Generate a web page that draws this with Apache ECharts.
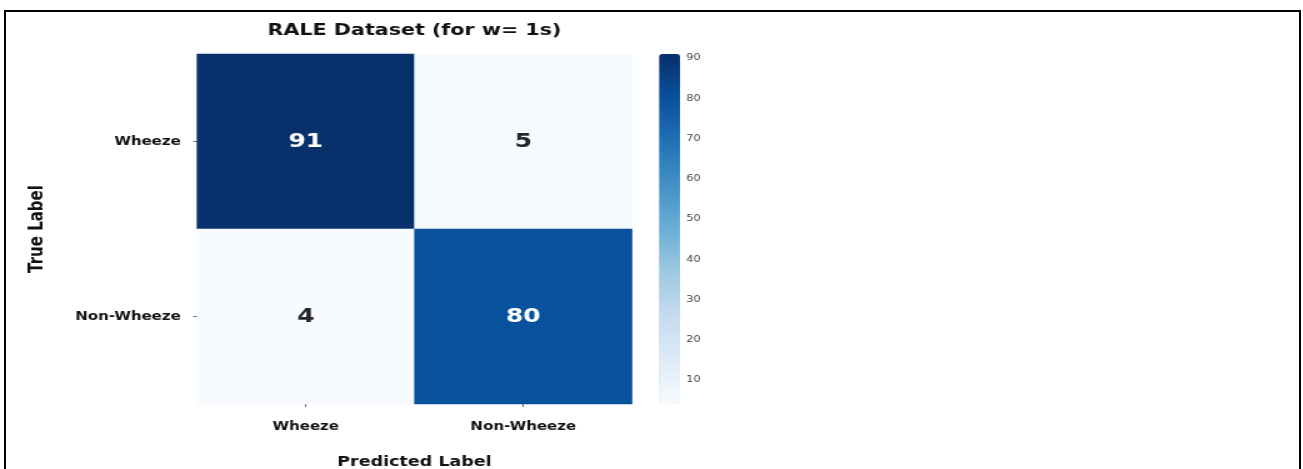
<!DOCTYPE html>
<html>
<head>
<meta charset="utf-8">
<title>RALE Dataset (for w= 1s)</title>
<script src="https://cdn.jsdelivr.net/npm/echarts@6/dist/echarts.min.js"></script>
<style>
  html, body { margin: 0; padding: 0; background: #ffffff; overflow: hidden; }
  #frame {
    position: absolute; left: 4px; top: 10px; width: 1297px; height: 520px;
    box-sizing: border-box; border: 2px solid #000; border-bottom: none;
  }
  /* the figure is laid out narrow and widened horizontally */
  #chart {
    position: absolute; left: 0; top: 0; width: 1042px; height: 469px;
    transform: scaleX(1.25); transform-origin: 0 0;
  }
</style>
</head>
<body>
<div id="frame"></div>
<div id="chart"></div>
<script>
// Confusion matrix for the RALE dataset, window length 1 s
const trueLabels = ['Wheeze', 'Non-Wheeze'];
const predictedLabels = ['Wheeze', 'Non-Wheeze'];
const counts = [
  [91, 5],
  [4, 80]
];
const colorbarTicks = [10, 20, 30, 40, 50, 60, 70, 80, 90];

// matplotlib "Blues" colour ramp
const blues = ['#f7fbff', '#deebf7', '#c6dbef', '#9ecae1', '#6baed6',
               '#4292c6', '#2171b5', '#08519c', '#08306b'];

const flat = counts.flat();
const vMin = Math.min(...flat);
const vMax = Math.max(...flat);

const cells = [];
counts.forEach((row, r) => row.forEach((v, c) => cells.push([c, r, v])));

const FONT = 'DejaVu Sans';
const grid = { left: 157.6, top: 54, width: 348, height: 350 };
const bar = { left: 527.2, top: 54, width: 16.8, height: 350 };

const chart = echarts.init(document.getElementById('chart'), null, { renderer: 'canvas' });

chart.setOption({
  backgroundColor: 'transparent',
  animation: false,
  title: {
    text: 'RALE Dataset (for w= 1s)',
    left: grid.left + grid.width / 2,
    top: 22,
    padding: 0,
    textAlign: 'center',
    textStyle: { fontFamily: FONT, fontWeight: 'bold', fontSize: 16.5, color: '#111' }
  },
  grid: [
    { left: grid.left, top: grid.top, width: grid.width, height: grid.height,
      containLabel: false, outerBoundsMode: 'none' },
    { left: bar.left, top: bar.top, width: bar.width, height: bar.height,
      containLabel: false, outerBoundsMode: 'none' }
  ],
  xAxis: [
    {
      type: 'category',
      data: predictedLabels,
      gridIndex: 0,
      name: 'Predicted Label',
      nameLocation: 'middle',
      nameGap: 51,
      nameTextStyle: { fontFamily: FONT, fontWeight: 'bold', fontSize: 14, color: '#111' },
      axisLine: { show: false },
      axisTick: { show: true, alignWithLabel: true, length: 3, lineStyle: { color: '#666' } },
      axisLabel: { margin: 17, fontFamily: FONT, fontWeight: 'bold', fontSize: 12, color: '#111' },
      splitLine: { show: false }
    },
    { type: 'value', gridIndex: 1, show: false, min: 0, max: 1 }
  ],
  yAxis: [
    {
      type: 'category',
      data: trueLabels,
      inverse: true,
      gridIndex: 0,
      name: 'True Label',
      nameLocation: 'middle',
      nameGap: 120,
      nameRotate: 90,
      nameTextStyle: { fontFamily: FONT, fontWeight: 'bold', fontSize: 15, color: '#111' },
      axisLine: { show: false },
      axisTick: { show: true, alignWithLabel: true, length: 3, lineStyle: { color: '#666' } },
      axisLabel: { margin: 13, fontFamily: FONT, fontWeight: 'bold', fontSize: 12, color: '#111' },
      splitLine: { show: false }
    },
    {
      type: 'value',
      gridIndex: 1,
      position: 'right',
      min: vMin,
      max: vMax,
      axisLine: { show: false },
      splitLine: { show: false },
      axisTick: {
        show: true, length: 3.5, customValues: colorbarTicks,
        lineStyle: { color: '#444', width: 1 }
      },
      axisLabel: {
        margin: 5, customValues: colorbarTicks,
        fontFamily: FONT, fontSize: 9, color: '#444'
      }
    }
  ],
  visualMap: {
    type: 'continuous',
    min: vMin,
    max: vMax,
    seriesIndex: 0,
    orient: 'vertical',
    left: bar.left,
    top: bar.top,
    itemWidth: bar.width,
    itemHeight: bar.height,
    padding: 0,
    calculable: false,
    realtime: false,
    text: ['', ''],
    showLabel: false,
    inRange: { color: blues }
  },
  series: [
    {
      type: 'heatmap',
      xAxisIndex: 0,
      yAxisIndex: 0,
      data: cells.map(d => ({
        value: d,
        // light text on the dark cells, dark text on the pale ones
        label: { color: (d[2] - vMin) / (vMax - vMin) > 0.5 ? '#ffffff' : '#262626' }
      })),
      label: {
        show: true,
        fontFamily: FONT,
        fontWeight: 'bold',
        fontSize: 20,
        formatter: p => String(p.value[2])
      },
      itemStyle: { borderWidth: 0 },
      emphasis: { disabled: true }
    },
    {
      type: 'scatter',
      xAxisIndex: 1,
      yAxisIndex: 1,
      data: [],
      silent: true
    }
  ]
});
</script>
</body>
</html>
